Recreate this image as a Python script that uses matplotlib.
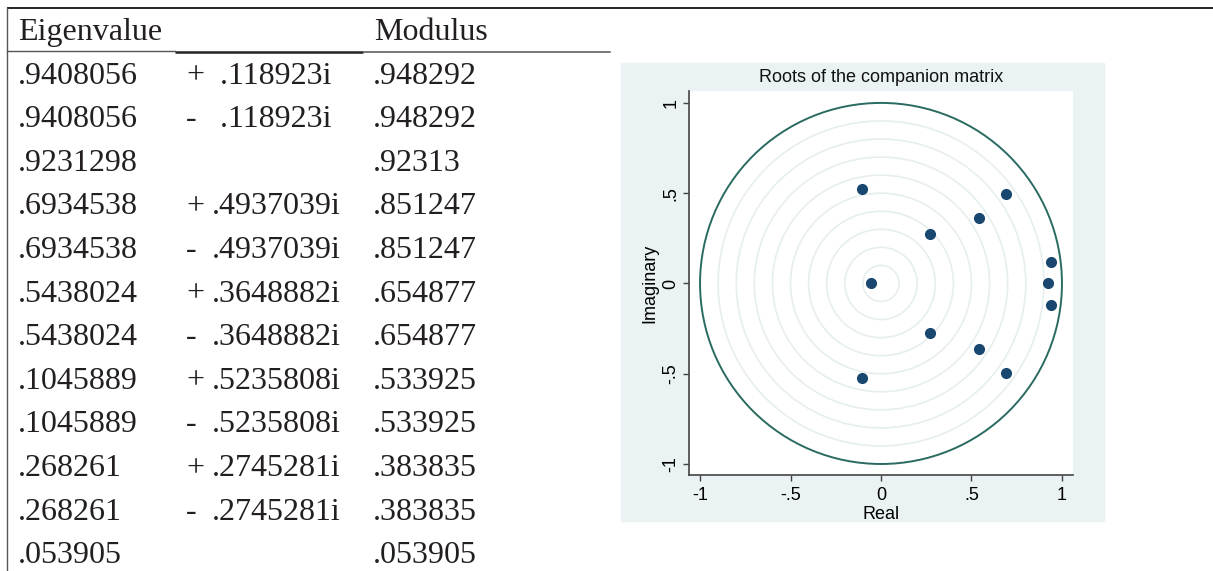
import matplotlib.pyplot as plt
import numpy as np
from matplotlib.patches import Rectangle, Circle

# table text, as printed
eig_real_txt = ['.9408056', '.9408056', '.9231298', '.6934538', '.6934538',
                '.5438024', '.5438024', '.1045889', '.1045889', '.268261',
                '.268261', '.053905']
eig_sign_txt = ['+', '-', '', '+', '-', '+', '-', '+', '-', '+', '-', '']
eig_imag_txt = [' .118923i', ' .118923i', '', '.4937039i', '.4937039i',
                '.3648882i', '.3648882i', '.5235808i', '.5235808i',
                '.2745281i', '.2745281i', '']
modulus_txt = ['.948292', '.948292', '.92313', '.851247', '.851247',
               '.654877', '.654877', '.533925', '.533925', '.383835',
               '.383835', '.053905']

# roots as drawn in the chart
root_re = [0.9408056, 0.9408056, 0.9231298, 0.6934538, 0.6934538,
           0.5438024, 0.5438024, -0.1045889, -0.1045889, 0.268261,
           0.268261, -0.053905]
root_im = [0.118923, -0.118923, 0.0, 0.4937039, -0.4937039,
           0.3648882, -0.3648882, 0.5235808, -0.5235808,
           0.2745281, -0.2745281, 0.0]

ring_radii = [0.1, 0.2, 0.3, 0.4, 0.5, 0.6, 0.7, 0.8, 0.9]
ticks = [-1, -0.5, 0, 0.5, 1]
tick_labels = ['-1', '-.5', '0', '.5', '1']

W, H = 1213, 571
fig = plt.figure(figsize=(W / 100, H / 100), dpi=100)

# full-figure pixel canvas for the table and the graph panel
bg = fig.add_axes([0, 0, 1, 1])
bg.set_xlim(0, W)
bg.set_ylim(H, 0)
bg.axis('off')

serif = dict(family=['Liberation Serif', 'DejaVu Serif'], fontsize=23,
             color='#231f20', va='baseline')

bg.plot([7, W], [8, 8], color='#222222', lw=1.4, solid_capstyle='butt')
bg.plot([7, 7], [8, H], color='#555555', lw=1.0)
bg.plot([7, 175], [51, 51], color='#555555', lw=1.0)
bg.plot([175, 363], [52, 52], color='#222222', lw=1.8, solid_capstyle='butt')
bg.plot([363, 610], [52, 52], color='#555555', lw=1.1)

bg.text(18, 40, 'Eigenvalue', **serif)
bg.text(374, 40, 'Modulus', **serif)

row0, step = 83.5, 43.6
for i in range(len(eig_real_txt)):
    y = row0 + i * step
    bg.text(18, y, eig_real_txt[i], **serif)
    bg.text(186, y, eig_sign_txt[i], **serif)
    bg.text(212, y, eig_imag_txt[i], **serif)
    bg.text(373, y, modulus_txt[i], **serif)

# Stata-like graph region
bg.add_patch(Rectangle((621, 63), 483, 458, color='#eaf2f3', zorder=0))
sans = ['Liberation Sans', 'DejaVu Sans']
bg.text(881, 78, 'Roots of the companion matrix', family=sans, fontsize=13,
        ha='center', va='center', color='#111111')

ax = fig.add_axes([689 / W, (H - 475) / H, (1073 - 689) / W, (475 - 91) / H])
ax.set_facecolor('white')
ax.set_xlim(-1.061, 1.061)
ax.set_ylim(-1.061, 1.066)

for r in ring_radii:
    ax.add_patch(Circle((0, 0), r, fill=False, ec='#e6eef0', lw=1.2))
ax.add_patch(Circle((0, 0), 1, fill=False, ec='#2a6b61', lw=1.4))

ax.plot(root_re, root_im, 'o', color='#1a476f', markersize=7, ls='none')

for s in ['top', 'right']:
    ax.spines[s].set_visible(False)
for s in ['left', 'bottom']:
    ax.spines[s].set_color('#444444')
    ax.spines[s].set_linewidth(1.2)

ax.set_xticks(ticks)
ax.set_xticklabels(tick_labels, family=sans, fontsize=13)
ax.set_yticks(ticks)
ax.set_yticklabels(tick_labels, family=sans, fontsize=13, rotation=90,
                   va='center')
ax.tick_params(direction='out', length=4, width=1, color='#444444', pad=3)
ax.tick_params(axis='x', pad=5)
ax.set_xlabel('Real', family=sans, fontsize=13, labelpad=1)
ax.set_ylabel('Imaginary', family=sans, fontsize=13, labelpad=3)

fig.savefig('out.png', dpi=100)
